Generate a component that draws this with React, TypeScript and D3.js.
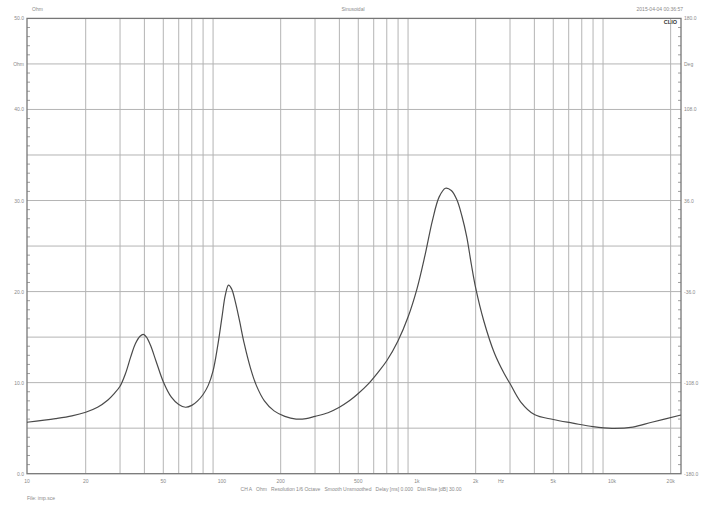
import React from "react";
import * as d3 from "d3";

const freqs = [10, 14, 17, 20, 23, 26, 28, 30, 32, 34, 36, 38, 39.5, 41, 43, 46, 50, 55, 60, 65, 70, 75, 80, 85, 90, 95, 100, 104, 108, 112, 117, 123, 130, 140, 150, 165, 185, 210, 240, 270, 300, 350, 400, 450, 500, 560, 630, 700, 800, 900, 1000, 1100, 1200, 1300, 1400, 1500, 1600, 1700, 1800, 1900, 2000, 2200, 2500, 2800, 3000, 3400, 4000, 5000, 6300, 8000, 10000, 12800, 16000, 22600];
const ohms = [5.65, 6.05, 6.35, 6.75, 7.3, 8.1, 8.8, 9.6, 11.0, 12.8, 14.3, 15.1, 15.3, 15.0, 14.1, 12.3, 10.1, 8.4, 7.6, 7.3, 7.5, 8.0, 8.7, 9.7, 11.3, 14.0, 17.2, 19.6, 20.7, 20.3, 18.9, 16.8, 14.3, 11.6, 9.7, 8.0, 6.9, 6.3, 6.0, 6.05, 6.3, 6.7, 7.3, 8.0, 8.8, 9.8, 11.1, 12.4, 14.6, 17.2, 20.3, 24.0, 27.8, 30.4, 31.35, 31.1, 30.1, 28.3, 26.0, 23.0, 20.4, 16.8, 13.2, 11.0, 9.9, 7.9, 6.5, 5.95, 5.55, 5.16, 4.98, 5.12, 5.65, 6.45];

const xTickValues = [10, 20, 50, 100, 200, 500, 1000, 2000, 5000, 10000, 20000];
const xTickLabels = ["10", "20", "50", "100", "200", "500", "1k", "2k", "5k", "10k", "20k"];
const yTickValues = [0, 10, 20, 30, 40, 50];
const yTickLabels = ["0.0", "10.0", "20.0", "30.0", "40.0", "50.0"];
const yRightLabels = ["-180.0", "-108.0", "-36.0", "36.0", "108.0", "180.0"];

const W = 708, H = 510;
const L = 27, R = 681, T = 18.4, B = 473.7;

export default function App() {
  const x = d3.scaleLog().domain([10, 22600]).range([L, R]);
  const y = d3.scaleLinear().domain([0, 50]).range([B, T]);

  const vGrid: number[] = [];
  for (let d = 10; d <= 10000; d *= 10) {
    for (let m = 2; m <= 9; m++) vGrid.push(d * m);
  }
  const vg = vGrid.filter((f) => f <= 20000);
  const hGrid = d3.range(5, 50, 5);
  const minor = d3.range(1, 50).filter((v) => v % 5 !== 0);

  const line = d3
    .line<number>()
    .x((_, i) => x(freqs[i]))
    .y((d) => y(d))
    .curve(d3.curveCatmullRom.alpha(0.5));

  const txt = "#8a8a8a";
  const font = "Liberation Sans, Arial, sans-serif";

  return (
    <svg width={W} height={H} style={{ position: "absolute", left: 0, top: 0, background: "#fff" }} fontFamily={font}>
      <rect x={0} y={0} width={W} height={H} fill="#fff" />
      {vg.map((f) => (
        <line key={"v" + f} x1={x(f)} x2={x(f)} y1={T} y2={B} stroke="#b4b4b4" strokeWidth={1} />
      ))}
      {hGrid.map((v) => (
        <line key={"h" + v} x1={L} x2={R} y1={y(v)} y2={y(v)} stroke="#b4b4b4" strokeWidth={1} />
      ))}
      {minor.map((v) => (
        <g key={"m" + v}>
          <line x1={L} x2={L + 3} y1={y(v)} y2={y(v)} stroke="#888" strokeWidth={0.8} />
          <line x1={R - 3} x2={R} y1={y(v)} y2={y(v)} stroke="#888" strokeWidth={0.8} />
        </g>
      ))}
      <rect x={L} y={T} width={R - L} height={B - T} fill="none" stroke="#777" strokeWidth={1.3} />
      <path d={line(ohms) || ""} fill="none" stroke="#4a4a4a" strokeWidth={1.2} />
      {yTickValues.map((v, i) => (
        <text key={"yl" + v} x={L - 3} y={y(v) + 2} fontSize={5} fill={txt} textAnchor="end">
          {yTickLabels[i]}
        </text>
      ))}
      <text x={L - 3} y={y(45) + 2} fontSize={5} fill={txt} textAnchor="end">Ohm</text>
      {yTickValues.map((v, i) => (
        <text key={"yr" + v} x={R + 3} y={y(v) + 2} fontSize={5} fill={txt}>
          {yRightLabels[i]}
        </text>
      ))}
      <text x={R + 3} y={y(45) + 2} fontSize={5} fill={txt}>Deg</text>
      {xTickValues.map((f, i) => (
        <text key={"xl" + f} x={x(f)} y={483} fontSize={5} fill={txt} textAnchor="middle">
          {xTickLabels[i]}
        </text>
      ))}
      <text x={501} y={483} fontSize={5} fill={txt} textAnchor="middle">Hz</text>
      <text x={32} y={11} fontSize={5} fill={txt}>Ohm</text>
      <text x={353} y={11} fontSize={5} fill={txt} textAnchor="middle">Sinusoidal</text>
      <text x={683} y={11} fontSize={5} fill={txt} textAnchor="end">2015-04-04 00:36:57</text>
      <text x={677} y={24} fontSize={5.5} fill="#333" fontWeight="bold" textAnchor="end">CLIO</text>
      <text x={351} y={491} fontSize={5} fill={txt} textAnchor="middle" style={{ whiteSpace: "pre" }}>
        {"CH A   Ohm   Resolution 1/6 Octave   Smooth Unsmoothed   Delay [ms] 0.000   Dist Rise [dB] 30.00"}
      </text>
      <text x={27} y={500} fontSize={5} fill={txt}>File: imp.sce</text>
    </svg>
  );
}
